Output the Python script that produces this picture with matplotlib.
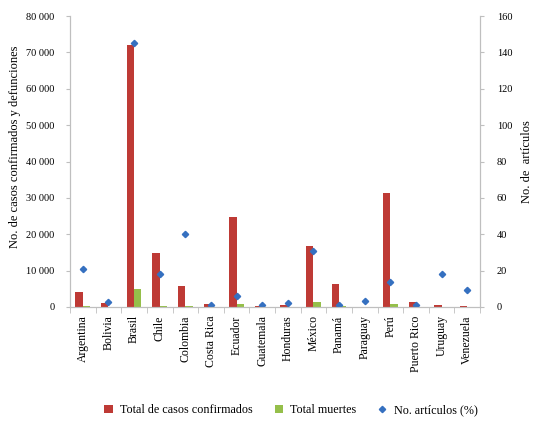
import numpy as np
import matplotlib
matplotlib.use("Agg")
import matplotlib.pyplot as plt
from matplotlib.ticker import FuncFormatter

plt.rcParams['font.family'] = ['Liberation Serif', 'DejaVu Serif']

# data
paises = ['Argentina', 'Bolivia', 'Brasil', 'Chile', 'Colombia', 'Costa Rica',
          'Ecuador', 'Guatemala', 'Honduras', 'México', 'Panamá', 'Paraguay',
          'Perú', 'Puerto Rico', 'Uruguay', 'Venezuela']
casos = [4100, 1000, 71900, 14800, 5800, 700, 24700, 400, 600, 16800,
         6300, 100, 31300, 1300, 600, 300]
muertes = [200, 50, 5000, 200, 200, 10, 850, 20, 50, 1450, 150, 10,
           850, 80, 20, 10]
articulos = [21, 3, 145, 18, 40, 1, 6, 1, 2, 31, 1, 3.5, 14, 1, 18, 9.5]

red = '#BE3A35'
green = '#95BF4A'
blue = '#3570C0'
grey = '#BFBFBF'

fig = plt.figure(figsize=(5.36, 4.34), dpi=100)
ax = fig.add_axes([70 / 536, 1 - 307 / 434, 410 / 536, 291 / 434])
ax2 = ax.twinx()

x = np.arange(len(paises))
w = 0.29
b1 = ax.bar(x - w / 2, casos, w, color=red, label='Total de casos confirmados')
b2 = ax.bar(x + w / 2, muertes, w, color=green, label='Total muertes')
ln = ax2.plot(x, articulos, linestyle='none', marker='D', markersize=3.2,
              color=blue, label='No. artículos (%)')[0]

ax.set_xlim(-0.5, len(paises) - 0.5)
ax.set_ylim(0, 80000)
ax2.set_ylim(0, 160)
ax.set_yticks(np.arange(0, 80001, 10000))
ax2.set_yticks(np.arange(0, 161, 20))
ax.yaxis.set_major_formatter(FuncFormatter(lambda v, p: f'{int(v):,}'.replace(',', ' ')))

ax.set_xticks(x)
ax.set_xticklabels(paises, rotation=90, fontsize=8.5)
ax.set_xticks(np.arange(-0.5, len(paises)), minor=True)
ax.tick_params(axis='x', which='major', length=0, pad=6)
ax.tick_params(axis='x', which='minor', length=4, color=grey, direction='out')
ax.tick_params(axis='y', length=3, color=grey, labelsize=7.5, pad=8)
ax2.tick_params(axis='y', length=3, color=grey, labelsize=7.5, pad=9)

for a in (ax, ax2):
    for s in a.spines.values():
        s.set_color(grey)
    a.spines['top'].set_visible(False)

ax.set_ylabel('No. de casos confirmados y defunciones', fontsize=9)
ax.yaxis.set_label_coords(-0.12, 0.55)
ax2.set_ylabel('No. de  artículos', fontsize=9, labelpad=6)

fig.legend([b1, b2, ln], [b1.get_label(), b2.get_label(), ln.get_label()],
           loc='center', bbox_to_anchor=(0.543, 0.055), ncol=3, frameon=False,
           fontsize=8.7, handlelength=0.7, handleheight=0.7, handletextpad=0.6,
           columnspacing=1.8)

fig.savefig('out.png', dpi=100)
